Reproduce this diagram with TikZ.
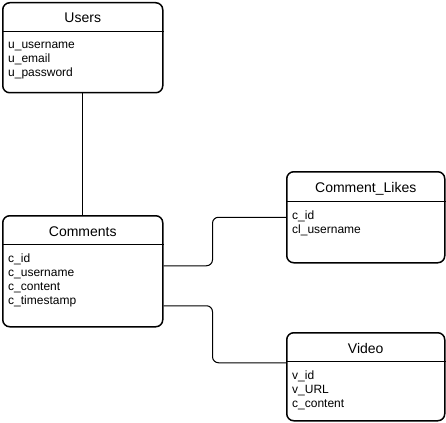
\documentclass[tikz,border=0pt]{standalone}
\usepackage{fontspec}
\setmainfont{Liberation Sans}
\usetikzlibrary{positioning}
\tikzset{
  every node/.style={
    font=\fontsize{12}{14}\selectfont,
    inner sep=0pt
  },
  entity/.style n args={2}{
    shape=rectangle,
    draw=black,
    line width=1.5pt,
    fill=white,
    rounded corners=7pt,
    minimum width=#1,
    minimum height=#2,
    anchor=north west
  },
  title/.style={
    font=\fontsize{14}{17}\selectfont,
    anchor=base
  },
  attrs/.style={
    align=left,
    anchor=north west,
    execute at begin node=\strut
  },
  divider/.style={
    line width=1pt
  },
  link/.style={
    line width=1pt,
    rounded corners=6pt
  }
}

\begin{document}
\begin{tikzpicture}[x=1pt,y=-1pt]
  \useasboundingbox (0,0) rectangle (446,422);
  % tables
  \node[entity={160pt}{90pt}] (users) at (2,2) {};
  \node[entity={160pt}{111pt}] (comments) at (2,215) {};
  \node[entity={158pt}{91pt}] (likes) at (286,171) {};
  \node[entity={158pt}{88pt}] (video) at (286,332) {};
  % header lines
  \draw[divider] ([yshift=-30pt]users.north west) -- ([yshift=-30pt]users.north east);
  \draw[divider] ([yshift=-29pt]comments.north west) -- ([yshift=-29pt]comments.north east);
  \draw[divider] ([yshift=-30pt]likes.north west) -- ([yshift=-30pt]likes.north east);
  \draw[divider] ([yshift=-29pt]video.north west) -- ([yshift=-29pt]video.north east);
  % titles
  \node[title] (users-title) at ([yshift=-21pt]users.north) {Users};
  \node[title] (comments-title) at ([yshift=-21pt]comments.north) {Comments};
  \node[title] (likes-title) at ([yshift=-21pt]likes.north) {Comment\_Likes};
  \node[title] (video-title) at ([yshift=-21pt]video.north) {Video};
  % attributes
  \node[attrs] (users-attrs) at ([xshift=6pt,yshift=-40pt]users.north west) {u\_username\\u\_email\\u\_password};
  \node[attrs] (comments-attrs) at ([xshift=6pt,yshift=-39pt]comments.north west) {c\_id\\c\_username\\c\_content\\c\_timestamp};
  \node[attrs] (likes-attrs) at ([xshift=6pt,yshift=-40pt]likes.north west) {c\_id\\cl\_username};
  \node[attrs] (video-attrs) at ([xshift=6pt,yshift=-39pt]video.north west) {v\_id\\v\_URL\\c\_content};
  % relations
  \draw[link] (users) -- (comments);
  \draw[link] ([yshift=5.5pt]comments.east) -- ++(49,0) |- (likes.west);
  \draw[link] ([yshift=-34.5pt]comments.east) -- ++(49,0) |- ([yshift=14pt]video.west);
\end{tikzpicture}
\end{document}
